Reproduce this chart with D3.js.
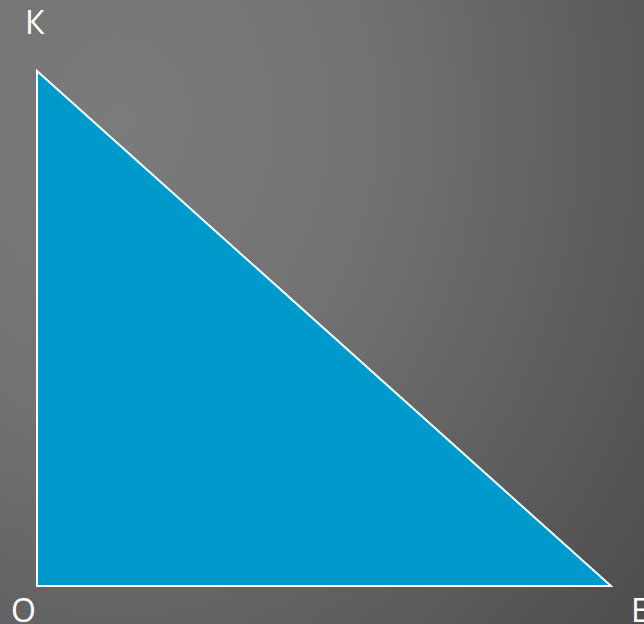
<!DOCTYPE html>
<html>
<head>
<meta charset="utf-8">
<script src="https://cdn.jsdelivr.net/npm/d3@7"></script>
<style>
  html, body { margin: 0; padding: 0; overflow: hidden; }
  svg { display: block; }
</style>
</head>
<body>
<svg id="chart" width="644" height="624"></svg>
<script>
// triangle vertices in plain units: О is the right angle
const vertexNames = ["К", "О", "Е"];
const vertexX = [0, 0, 10];
const vertexY = [9, 0, 0];

const width = 644, height = 624;

const x = d3.scaleLinear().domain([0, 10]).range([37, 611]);
const y = d3.scaleLinear().domain([0, 9]).range([586, 71]);

const svg = d3.select("#chart");

// grey background, lighter up left, darker to the right (stretched ellipse)
const grad = svg.append("defs")
    .append("radialGradient")
    .attr("id", "bg")
    .attr("gradientUnits", "userSpaceOnUse")
    .attr("cx", 120).attr("cy", 120).attr("r", 720)
    .attr("gradientTransform", "translate(120,120) scale(1,1.2) translate(-120,-120)");
grad.append("stop").attr("offset", 0).attr("stop-color", "#7b7b7b");
grad.append("stop").attr("offset", 0.35).attr("stop-color", "#727272");
grad.append("stop").attr("offset", 1).attr("stop-color", "#484848");

svg.append("rect")
    .attr("width", width)
    .attr("height", height)
    .attr("fill", "url(#bg)");

const pts = vertexNames.map((n, i) => ({ name: n, x: vertexX[i], y: vertexY[i] }));

svg.append("path")
    .datum(pts)
    .attr("d", d3.line().x(d => x(d.x)).y(d => y(d.y)).curve(d3.curveLinearClosed))
    .attr("fill", "#0099cc")
    .attr("stroke", "#ffffff")
    .attr("stroke-width", 2)
    .attr("stroke-linejoin", "miter");

// label offsets from each vertex (by index: К, О, Е)
const labelDx = [-12, -26, 20];
const labelDy = [-37, 36, 36];

svg.selectAll("text.vertex")
    .data(pts)
    .enter()
    .append("text")
    .attr("class", "vertex")
    .attr("x", (d, i) => x(d.x) + labelDx[i])
    .attr("y", (d, i) => y(d.y) + labelDy[i])
    .attr("fill", "#ffffff")
    .style("font-family", "'Open Sans', 'Noto Sans', sans-serif")
    .style("font-size", "32px")
    .text(d => d.name);
</script>
</body>
</html>
